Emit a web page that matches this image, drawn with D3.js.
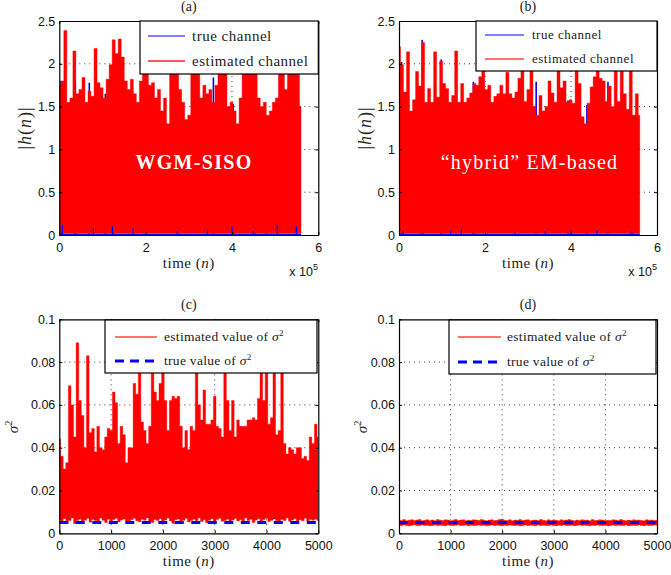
<!DOCTYPE html>
<html><head><meta charset="utf-8">
<script src="https://cdn.jsdelivr.net/npm/d3@7"></script>
<style>body{margin:0;background:#fff}svg{display:block}</style>
</head><body>
<svg id="chart" width="671" height="575"></svg>
<script>
// ---------------- DATA ----------------
// Panels (a)/(b): envelope of |h(n)| per bin of 7000 samples, 0 .. 5.6e5
const chBin = 7000;
const chTimes = d3.range(0, 560001, chBin);
const estTopA = [1.75,1.8,2.39,1.55,1.6,2.15,1.65,1.7,1.84,1.55,
 1.68,1.62,2.18,1.78,1.72,1.6,1.82,1.99,2.28,2.12,
 2.29,2.08,1.8,1.7,1.82,1.65,1.55,1.8,2.0,1.95,
 1.75,1.78,1.6,1.7,1.45,1.6,1.3,2.05,1.95,1.9,
 1.7,1.55,1.35,1.4,2.0,2.1,1.95,1.6,1.75,1.65,
 1.7,1.55,1.75,2.0,2.1,1.9,1.5,1.55,1.45,1.3,
 1.6,2.0,2.15,1.95,2.05,1.9,1.6,1.5,1.55,1.4,
 1.45,1.55,1.6,1.95,2.0,1.7,1.9,2.05,1.95,2.0,
 1.5];
const estTopB = [2.2,1.99,1.67,2.14,1.45,1.58,1.91,1.74,2.25,1.55,
 1.71,1.55,2.14,1.61,2.03,1.77,1.71,1.55,1.63,2.15,
 1.55,1.77,1.55,1.6,1.66,1.77,1.75,1.85,1.95,1.7,
 1.75,1.55,1.62,1.65,1.75,1.65,1.9,1.65,1.6,1.67,
 1.83,2.0,1.56,1.7,2.05,1.5,1.4,1.63,1.45,1.5,
 1.8,1.66,1.55,2.1,1.72,1.8,1.55,1.58,1.54,2.05,
 1.77,1.38,1.3,1.54,1.73,1.85,2.05,1.83,1.8,1.56,
 1.74,1.5,2.1,1.56,2.1,1.65,1.47,2.05,1.4,1.65,
 1.4];
const estFloorAB = 0.02;        // lowest level of the red trace
const trueFloorAB = 0.01;       // true channel just above zero
// true channel peaks that show above the estimate
const truePeakTimesA = [4000, 37000, 69500, 106600, 125000, 357000, 403000, 454000, 480000];
const truePeakValsA  = [1.80, 1.78, 1.78, 1.65, 1.86, 1.84, 1.53, 1.55, 1.38];
const truePeakTimesB = [6000, 54000, 98000, 173000, 319000, 393000, 437000, 486000, 544000];
const truePeakValsB  = [2.02, 2.28, 2.05, 1.79, 1.79, 1.57, 1.52, 1.79, 1.40];
// true channel small values near zero
const trueLowTimesA = [7000, 79000, 123000, 171000, 273000, 343000, 400000, 449000, 505000, 549000];
const trueLowValsA  = [0.12, 0.08, 0.10, 0.08, 0.05, 0.06, 0.10, 0.05, 0.12, 0.10];
const trueLowTimesB = [10000, 120000, 145000, 270000, 340000, 400000, 460000, 540000];
const trueLowValsB  = [0.05, 0.04, 0.06, 0.03, 0.05, 0.04, 0.05, 0.04];

// Panels (c)/(d): sigma^2 per bin of 50 iterations, 0 .. 5000
const sgTimes = d3.range(0, 5001, 50);
const estTopC = [0.044,0.036,0.030,0.033,0.069,0.060,0.045,0.089,0.062,0.055,
 0.040,0.083,0.047,0.049,0.038,0.050,0.040,0.039,0.045,0.049,
 0.048,0.066,0.061,0.042,0.050,0.046,0.033,0.040,0.040,0.070,
 0.065,0.085,0.052,0.048,0.042,0.050,0.080,0.066,0.062,0.070,
 0.078,0.062,0.048,0.062,0.064,0.063,0.064,0.050,0.040,0.048,
 0.039,0.050,0.048,0.085,0.060,0.053,0.067,0.051,0.051,0.053,
 0.064,0.050,0.049,0.045,0.078,0.062,0.048,0.062,0.045,0.053,
 0.050,0.050,0.050,0.053,0.053,0.054,0.053,0.063,0.085,0.062,
 0.080,0.051,0.054,0.085,0.046,0.048,0.080,0.042,0.037,0.040,
 0.039,0.037,0.040,0.040,0.035,0.036,0.034,0.045,0.042,0.051,
 0.045];
const estLowC = [0.0062,0.0055,0.0068,0.0050,0.0060,0.0072,0.0045,0.0060,0.0066,0.0056,
 0.0061,0.0070,0.0052,0.0065,0.0060,0.0055,0.0071,0.0061,0.0050,0.0066,
 0.0058,0.0064,0.0070,0.0053,0.0062,0.0067,0.0057,0.0048,0.0063,0.0070,
 0.0059,0.0054,0.0066,0.0061,0.0072,0.0056,0.0050,0.0064,0.0060,0.0068,
 0.0055,0.0062,0.0071,0.0058,0.0046,0.0063,0.0067,0.0057,0.0061,0.0070,
 0.0053,0.0060,0.0066,0.0059,0.0072,0.0055,0.0063,0.0049,0.0061,0.0068,
 0.0057,0.0064,0.0070,0.0056,0.0060,0.0066,0.0052,0.0062,0.0069,0.0058,
 0.0063,0.0055,0.0071,0.0060,0.0066,0.0050,0.0062,0.0068,0.0057,0.0064,
 0.0070,0.0055,0.0061,0.0067,0.0059,0.0053,0.0065,0.0060,0.0071,0.0056,
 0.0062,0.0068,0.0054,0.0063,0.0059,0.0070,0.0057,0.0064,0.0061,0.0066,
 0.0060];
const estTopD = [0.0062,0.0060,0.0064,0.0059,0.0061,0.0063,0.0060,0.0062,0.0065,0.0059,
 0.0061,0.0063,0.0060,0.0062,0.0059,0.0064,0.0061,0.0060,0.0063,0.0062,
 0.0059,0.0061,0.0064,0.0060,0.0062,0.0063,0.0059,0.0061,0.0060,0.0063,
 0.0062,0.0060,0.0064,0.0061,0.0059,0.0062,0.0063,0.0060,0.0061,0.0064,
 0.0066,0.0061,0.0060,0.0063,0.0059,0.0062,0.0061,0.0064,0.0060,0.0062,
 0.0063,0.0059,0.0061,0.0062,0.0060,0.0064,0.0061,0.0059,0.0063,0.0060,
 0.0062,0.0061,0.0059,0.0063,0.0060,0.0062,0.0064,0.0061,0.0059,0.0062,
 0.0060,0.0063,0.0061,0.0062,0.0059,0.0064,0.0060,0.0061,0.0063,0.0062,
 0.0059,0.0061,0.0060,0.0063,0.0062,0.0060,0.0064,0.0061,0.0059,0.0062,
 0.0060,0.0063,0.0061,0.0062,0.0060,0.0059,0.0063,0.0061,0.0062,0.0060,
 0.0061];
const estLowD = [0.0038,0.0036,0.0039,0.0037,0.0035,0.0038,0.0040,0.0036,0.0037,0.0039,
 0.0036,0.0038,0.0035,0.0037,0.0039,0.0036,0.0038,0.0037,0.0035,0.0039,
 0.0037,0.0036,0.0038,0.0040,0.0036,0.0037,0.0039,0.0035,0.0038,0.0036,
 0.0037,0.0039,0.0036,0.0038,0.0035,0.0037,0.0039,0.0036,0.0038,0.0037,
 0.0035,0.0038,0.0036,0.0039,0.0037,0.0036,0.0038,0.0035,0.0037,0.0039,
 0.0036,0.0038,0.0037,0.0035,0.0039,0.0036,0.0038,0.0037,0.0036,0.0039,
 0.0037,0.0035,0.0038,0.0036,0.0039,0.0037,0.0036,0.0038,0.0035,0.0037,
 0.0039,0.0036,0.0038,0.0037,0.0035,0.0038,0.0036,0.0039,0.0037,0.0036,
 0.0038,0.0035,0.0037,0.0039,0.0036,0.0038,0.0037,0.0036,0.0039,0.0035,
 0.0037,0.0038,0.0036,0.0039,0.0037,0.0035,0.0038,0.0036,0.0037,0.0039,
 0.0038];
const trueSigma2 = 0.005;

// ticks
const xTicksAB = [0, 200000, 400000, 600000];
const xTickLabelsAB = ["0","2","4","6"];
const yTicksAB = [0, 0.5, 1, 1.5, 2, 2.5];
const yTickLabelsAB = ["0","0.5","1","1.5","2","2.5"];
const xTicksCD = [0,1000,2000,3000,4000,5000];
const xTickLabelsCD = ["0","1000","2000","3000","4000","5000"];
const yTicksCD = [0,0.02,0.04,0.06,0.08,0.1];
const yTickLabelsCD = ["0","0.02","0.04","0.06","0.08","0.1"];

// ---------------- DRAWING ----------------
const svg = d3.select('#chart');
const RED = '#ff0000', BLUE = '#0000ff';
const SERIF = '"Liberation Serif","Times New Roman",serif';
const SANS = '"Liberation Sans",Arial,sans-serif';

function panel(cfg){
  const x = d3.scaleLinear().domain(cfg.xDomain).range([cfg.left, cfg.right]);
  const y = d3.scaleLinear().domain(cfg.yDomain).range([cfg.bottom, cfg.top]);
  const g = svg.append('g');
  const clipId = 'clip' + cfg.key;
  svg.append('clipPath').attr('id', clipId).append('rect')
    .attr('x', cfg.left).attr('y', cfg.top)
    .attr('width', cfg.right - cfg.left).attr('height', cfg.bottom - cfg.top);
  // grid
  const grid = g.append('g').attr('stroke', '#222').attr('stroke-width', 0.9)
    .attr('stroke-dasharray', '1,4');
  cfg.xTicks.slice(1, -1).forEach(t => grid.append('line')
    .attr('x1', x(t)).attr('x2', x(t)).attr('y1', cfg.top).attr('y2', cfg.bottom));
  cfg.yTicks.slice(1, -1).forEach(t => grid.append('line')
    .attr('y1', y(t)).attr('y2', y(t)).attr('x1', cfg.left).attr('x2', cfg.right));
  const plot = g.append('g').attr('clip-path', `url(#${clipId})`);
  cfg.draw(plot, x, y);
  // axes (ticks inward, box on)
  const lab = (ticks, labels) => d => labels[ticks.indexOf(d)];
  const styleAxis = a => { a.attr('font-size', 12.5).attr('font-family', SANS);
    a.selectAll('path.domain').attr('stroke-width', 1.2);
    a.selectAll('text').attr('fill', '#111'); };
  g.append('g').attr('transform', `translate(0,${cfg.bottom})`)
    .call(d3.axisBottom(x).tickValues(cfg.xTicks).tickFormat(lab(cfg.xTicks, cfg.xLabels))
      .tickSizeInner(-3).tickSizeOuter(0).tickPadding(8)).call(styleAxis);
  g.append('g').attr('transform', `translate(0,${cfg.top})`)
    .call(d3.axisTop(x).tickValues(cfg.xTicks).tickFormat('')
      .tickSizeInner(-3).tickSizeOuter(0)).call(styleAxis);
  g.append('g').attr('transform', `translate(${cfg.left},0)`)
    .call(d3.axisLeft(y).tickValues(cfg.yTicks).tickFormat(lab(cfg.yTicks, cfg.yLabels))
      .tickSizeInner(-3).tickSizeOuter(0).tickPadding(4)).call(styleAxis);
  g.append('g').attr('transform', `translate(${cfg.right},0)`)
    .call(d3.axisRight(y).tickValues(cfg.yTicks).tickFormat('')
      .tickSizeInner(-3).tickSizeOuter(0)).call(styleAxis);
  // title
  g.append('text').attr('x', (cfg.left + cfg.right) / 2).attr('y', cfg.top - 10)
    .attr('text-anchor', 'middle').attr('font-family', SERIF).attr('font-size', 14)
    .attr('fill', '#222').text(cfg.title);
  // x label
  const xl = g.append('text').attr('x', (cfg.left + cfg.right) / 2).attr('y', cfg.bottom + 33)
    .attr('text-anchor', 'middle').attr('font-family', SERIF).attr('font-size', 15)
    .attr('letter-spacing', 0.5).attr('fill', '#222');
  xl.append('tspan').text('time (');
  xl.append('tspan').attr('font-style', 'italic').text('n');
  xl.append('tspan').text(')');
  cfg.extra(g, x, y);
  return {x, y, g};
}

function legend(g, box, items, fs){
  g.append('rect').attr('x', box.x).attr('y', box.y).attr('width', box.w).attr('height', box.h)
    .attr('fill', '#fff').attr('stroke', '#000').attr('stroke-width', 1.2);
  items.forEach((it, i) => {
    const yy = box.rows[i];
    g.append('line').attr('x1', box.l1).attr('x2', box.l2).attr('y1', yy).attr('y2', yy)
      .attr('stroke', it.color).attr('stroke-width', it.width)
      .attr('stroke-opacity', it.op || 1)
      .attr('stroke-dasharray', it.dash || null);
    const t = g.append('text').attr('x', box.tx).attr('y', yy + fs * 0.3)
      .attr('font-family', SERIF).attr('font-size', fs).attr('letter-spacing', box.ls)
      .attr('fill', '#222');
    it.text(t);
  });
}

function sigmaLabel(t){
  t.append('tspan').attr('font-style', 'italic').text('σ');
  t.append('tspan').attr('font-size', '0.68em').attr('dy', '-0.5em').text('2');
}

function drawChannel(plot, x, y, top, peakT, peakV, lowT, lowV){
  // true channel (blue) underneath
  plot.append('path').datum([0, 560000])
    .attr('d', d3.line().x(d => x(d)).y(() => y(trueFloorAB)))
    .attr('stroke', BLUE).attr('stroke-width', 1.5).attr('fill', 'none');
  plot.selectAll(null).data(peakT).join('line')
    .attr('x1', d => x(d)).attr('x2', d => x(d))
    .attr('y1', y(0)).attr('y2', (d, i) => y(peakV[i]))
    .attr('stroke', BLUE).attr('stroke-width', 1.6);
  // estimated channel (red)
  const area = d3.area().curve(d3.curveStep)
    .x((d, i) => x(chTimes[i])).y0(y(estFloorAB)).y1(d => y(d));
  plot.append('path').datum(top).attr('d', area).attr('fill', RED)
    .attr('stroke', RED).attr('stroke-width', 0.4);
  plot.selectAll(null).data(lowT).join('line')
    .attr('x1', d => x(d)).attr('x2', d => x(d))
    .attr('y1', y(0)).attr('y2', (d, i) => y(lowV[i]))
    .attr('stroke', BLUE).attr('stroke-width', 1.3);
}

function exponent(g, xr, yb){
  const t = g.append('text').attr('x', xr).attr('y', yb).attr('text-anchor', 'end')
    .attr('font-family', SANS).attr('font-size', 12.5).attr('fill', '#111');
  t.append('tspan').text('x 10');
  t.append('tspan').attr('font-size', 9).attr('dy', -6).text('5');
}

function yLabel(g, cx, cy, fs, ls, fill){
  const t = g.append('text').attr('transform', `translate(${cx},${cy}) rotate(-90)`)
    .attr('text-anchor', 'middle').attr('dominant-baseline', 'central')
    .attr('font-family', SERIF).attr('font-size', fs).attr('letter-spacing', ls)
    .attr('fill', '#222');
  fill(t);
}
const hLabel = t => {
  t.append('tspan').text('|');
  t.append('tspan').attr('font-style', 'italic').text('h');
  t.append('tspan').text('(');
  t.append('tspan').attr('font-style', 'italic').text('n');
  t.append('tspan').text(')|');
};

// (a)
panel({key: 'a', title: '(a)', left: 59.3, right: 318.3, top: 21, bottom: 235,
  xDomain: [0, 600000], yDomain: [0, 2.5],
  xTicks: xTicksAB, xLabels: xTickLabelsAB, yTicks: yTicksAB, yLabels: yTickLabelsAB,
  draw: (p, x, y) => drawChannel(p, x, y, estTopA, truePeakTimesA, truePeakValsA, trueLowTimesA, trueLowValsA),
  extra: (g, x, y) => {
    legend(g, {x: 140, y: 21, w: 178.3, h: 53, l1: 148, l2: 185, tx: 192, rows: [36, 61], ls: 0.5},
      [{color: BLUE, width: 1.2, text: t => t.text('true channel')},
       {color: '#ff3030', width: 2, op: 0.8, text: t => t.text('estimated channel')}], 15);
    g.append('text').attr('x', 194).attr('y', 162).attr('text-anchor', 'middle')
      .attr('dominant-baseline', 'central').attr('font-family', SERIF).attr('font-weight', 'bold')
      .attr('font-size', 20).attr('letter-spacing', 1.3).attr('fill', '#fff').text('WGM-SISO');
    exponent(g, 318, 276);
    yLabel(g, 25, 128, 18, 1, hLabel);
  }});

// (b)
panel({key: 'b', title: '(b)', left: 399, right: 657, top: 21, bottom: 235,
  xDomain: [0, 600000], yDomain: [0, 2.5],
  xTicks: xTicksAB, xLabels: xTickLabelsAB, yTicks: yTicksAB, yLabels: yTickLabelsAB,
  draw: (p, x, y) => drawChannel(p, x, y, estTopB, truePeakTimesB, truePeakValsB, trueLowTimesB, trueLowValsB),
  extra: (g, x, y) => {
    legend(g, {x: 476, y: 21, w: 181, h: 50, l1: 485, l2: 524, tx: 532, rows: [35, 59], ls: 0.5},
      [{color: BLUE, width: 1.2, text: t => t.text('true channel')},
       {color: '#ff5a5a', width: 2.2, op: 0.85, text: t => t.text('estimated channel')}], 13);
    g.append('text').attr('x', 529.5).attr('y', 162).attr('text-anchor', 'middle')
      .attr('dominant-baseline', 'central').attr('font-family', SERIF)
      .attr('font-size', 20).attr('letter-spacing', 1.2).attr('fill', '#fff').text('“hybrid” EM-based');
    exponent(g, 657, 276);
    yLabel(g, 365, 128, 18, 1, hLabel);
  }});

function drawSigma(plot, x, y, top, low){
  const area = d3.area().curve(d3.curveStep)
    .x((d, i) => x(sgTimes[i])).y0((d, i) => y(low[i])).y1(d => y(d));
  plot.append('path').datum(top).attr('d', area).attr('fill', RED)
    .attr('stroke', RED).attr('stroke-width', 0.4);
  plot.append('path').datum([0, 5000])
    .attr('d', d3.line().x(d => x(d)).y(() => y(trueSigma2)))
    .attr('stroke', BLUE).attr('stroke-width', 3).attr('stroke-dasharray', '9,7.5').attr('fill', 'none');
}

const sigmaLegendItems = [
  {color: '#ff4040', width: 1.3, text: t => { t.append('tspan').text('estimated value of '); sigmaLabel(t); }},
  {color: BLUE, width: 3, dash: '9,6', text: t => { t.append('tspan').text('true value of '); sigmaLabel(t); }}];

// (c)
panel({key: 'c', title: '(c)', left: 59.3, right: 318.3, top: 319.3, bottom: 533.3,
  xDomain: [0, 5000], yDomain: [0, 0.1],
  xTicks: xTicksCD, xLabels: xTickLabelsCD, yTicks: yTicksCD, yLabels: yTickLabelsCD,
  draw: (p, x, y) => drawSigma(p, x, y, estTopC, estLowC),
  extra: (g, x, y) => {
    legend(g, {x: 105, y: 320, w: 212, h: 53, l1: 115, l2: 157, tx: 164, rows: [337, 361], ls: 0.3},
      sigmaLegendItems, 13.5);
    yLabel(g, 13, 427, 15, 0, sigmaLabel);
  }});

// (d)
panel({key: 'd', title: '(d)', left: 399, right: 657, top: 319.3, bottom: 533.3,
  xDomain: [0, 5000], yDomain: [0, 0.1],
  xTicks: xTicksCD, xLabels: xTickLabelsCD, yTicks: yTicksCD, yLabels: yTickLabelsCD,
  draw: (p, x, y) => drawSigma(p, x, y, estTopD, estLowD),
  extra: (g, x, y) => {
    legend(g, {x: 449, y: 320, w: 207, h: 54, l1: 458, l2: 501, tx: 507, rows: [337, 362], ls: 0.3},
      sigmaLegendItems, 13.5);
    yLabel(g, 362, 427, 15, 0, sigmaLabel);
  }});
</script>
</body></html>
